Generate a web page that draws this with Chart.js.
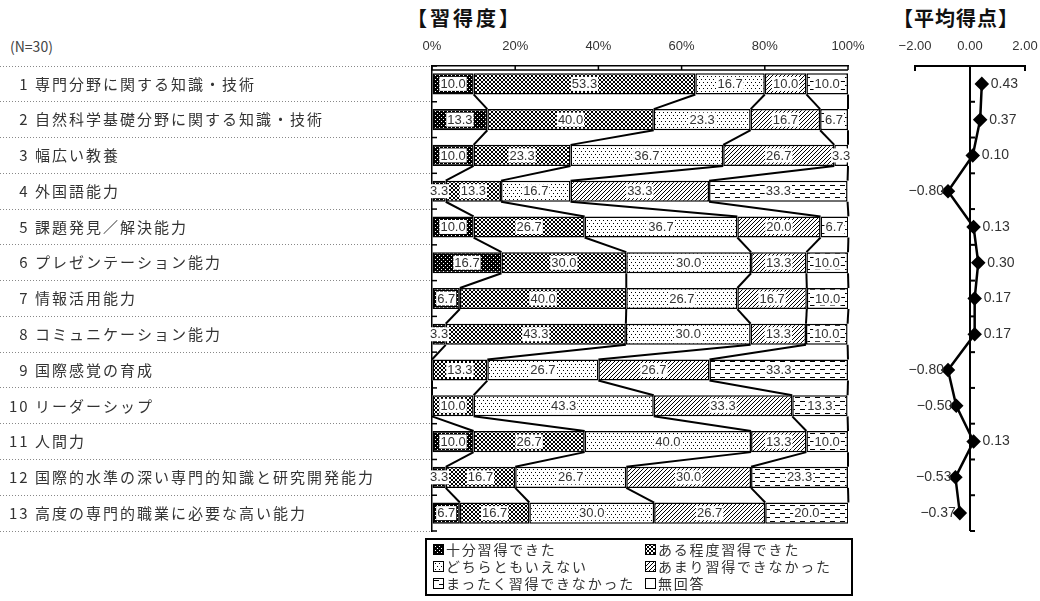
<!DOCTYPE html>
<html lang="ja">
<head>
<meta charset="utf-8">
<title>習得度と平均得点</title>
<script src="https://cdn.jsdelivr.net/npm/chart.js@4.4.1/dist/chart.umd.min.js"></script>
<style>
  body { margin: 0; width: 1040px; height: 601px; background: #fff; position: relative; overflow: hidden;
         font-family: "Noto Sans CJK JP", "Noto Sans", sans-serif; color: #333; }
  .title { position: absolute; top: 3px; font-size: 20px; font-weight: bold; color: #111; }
  #t1 { left: 407px; letter-spacing: 3px; }
  #t2 { left: 893px; letter-spacing: 1px; }
  #n { position: absolute; left: 10px; top: 36px; font-size: 14px; color: #444; }
  #left { position: absolute; left: 0; top: 0; }
  #right { position: absolute; left: 880px; top: 0; }
  #legend { position: absolute; left: 425px; top: 538px; width: 428px; height: 58px; border: 2px solid #000;
            display: grid; grid-template-columns: 212px 212px; grid-auto-rows: 17px; padding: 1px 0 0 6px; box-sizing: border-box; }
  #legend .item { font-size: 14px; line-height: 17px; letter-spacing: 1.8px; white-space: nowrap; display: flex; align-items: center; }
  #legend .sw { width: 9px; height: 9px; border: 1.5px solid #000; margin-right: 2px; flex: none; }
</style>
</head>
<body>
<div class="title" id="t1">【習得度】</div>
<div class="title" id="t2">【平均得点】</div>
<div id="n">(N=30)</div>
<canvas id="left" width="880" height="560"></canvas>
<canvas id="right" width="170" height="560"></canvas>
<div id="legend"></div>
<script>
// categories (top to bottom)
const categories = [
  '専門分野に関する知識・技術',
  '自然科学基礎分野に関する知識・技術',
  '幅広い教養',
  '外国語能力',
  '課題発見／解決能力',
  'プレゼンテーション能力',
  '情報活用能力',
  'コミュニケーション能力',
  '国際感覚の育成',
  'リーダーシップ',
  '人間力',
  '国際的水準の深い専門的知識と研究開発能力',
  '高度の専門的職業に必要な高い能力'
];
const seriesNames = ['十分習得できた', 'ある程度習得できた', 'どちらともいえない', 'あまり習得できなかった', 'まったく習得できなかった', '無回答'];

// percentages per answer
const fully    = [10.0, 13.3, 10.0,  3.3, 10.0, 16.7,  6.7,  3.3,  0,    0,    10.0,  3.3,  6.7];
const somewhat = [53.3, 40.0, 23.3, 13.3, 26.7, 30.0, 40.0, 43.3, 13.3, 10.0, 26.7, 16.7, 16.7];
const neutral  = [16.7, 23.3, 36.7, 16.7, 36.7, 30.0, 26.7, 30.0, 26.7, 43.3, 40.0, 26.7, 30.0];
const little   = [10.0, 16.7, 26.7, 33.3, 20.0, 13.3, 16.7, 13.3, 26.7, 33.3, 13.3, 30.0, 26.7];
const notAtAll = [10.0,  6.7,  3.3, 33.3,  6.7, 10.0, 10.0, 10.0, 33.3, 13.3, 10.0, 23.3, 20.0];
const noAnswer = [0, 0, 0, 0, 0, 0, 0, 0, 0, 0, 0, 0, 0];
const seriesValues = [fully, somewhat, neutral, little, notAtAll, noAnswer];

// average score per category
const meanScores = [0.43, 0.37, 0.10, -0.80, 0.13, 0.30, 0.17, 0.17, -0.80, -0.50, 0.13, -0.53, -0.37];

const percentTicks = [0, 20, 40, 60, 80, 100];
const scoreTicks = [-2, 0, 2];

const FONT = '"Noto Sans CJK JP", "Noto Sans", sans-serif';
const NUMFONT = '"Liberation Sans", "DejaVu Sans", sans-serif';

// small black/white tiles for the fill patterns
function makeTile(rows) {
    const c = document.createElement('canvas');
    c.width = rows[0].length;
    c.height = rows.length;
    const g = c.getContext('2d');
    g.fillStyle = '#fff';
    g.fillRect(0, 0, c.width, c.height);
    g.fillStyle = '#000';
    rows.forEach((r, y) => [...r].forEach((p, x) => { if (p === '1') g.fillRect(x, y, 1, 1); }));
    return c;
}
const tiles = [
    makeTile(['1111', '1011', '1111', '1110']),
    makeTile(['1001', '0110', '0110', '1001']),
    makeTile(['0000', '0100', '0000', '0000', '0001', '0000']),
    makeTile(['0001', '0010', '0100', '1000']),
    makeTile(['0000000000', '1111100000', '0000000000', '0000000000', '0000000000', '0000011111', '0000000000', '0000000000']),
    makeTile(['0'])
];
const patterns = tiles.map(t => document.createElement('canvas').getContext('2d').createPattern(t, 'repeat'));

function line(ctx, x1, y1, x2, y2) {
    ctx.beginPath();
    ctx.moveTo(x1, y1);
    ctx.lineTo(x2, y2);
    ctx.stroke();
}

// wider spacing for the category labels only (x labels are drawn later, ticks.z = 1)
const spacingPlugin = {
    id: 'spacing',
    beforeDraw(chart) { chart.ctx.letterSpacing = '2px'; },
    beforeDatasetsDraw(chart) { chart.ctx.letterSpacing = '0px'; }
};

// series lines between bars, value labels, axis ticks
const barDecor = {
    id: 'barDecor',
    afterDatasetsDraw(chart) {
        const ctx = chart.ctx;
        const metas = seriesValues.map((_, k) => chart.getDatasetMeta(k));
        ctx.save();
        ctx.strokeStyle = '#000';
        ctx.lineWidth = 2;
        for (let k = 0; k < 5; k++) {
            const els = metas[k].data;
            for (let i = 0; i < els.length - 1; i++) {
                const a = els[i], b = els[i + 1];
                line(ctx, a.x, a.y + a.height / 2, b.x, b.y - b.height / 2);
            }
        }
        ctx.font = '13px ' + NUMFONT;
        ctx.textAlign = 'center';
        ctx.textBaseline = 'middle';
        seriesValues.forEach((vals, k) => {
            vals.forEach((v, i) => {
                if (!v) return;
                const el = metas[k].data[i];
                const cx = (el.x + el.base) / 2;
                const txt = v.toFixed(1);
                const w = ctx.measureText(txt).width;
                ctx.fillStyle = '#fff';
                ctx.fillRect(cx - w / 2 - 1, el.y - 7, w + 2, 14);
                ctx.fillStyle = '#333';
                ctx.fillText(txt, cx, el.y + 0.5);
            });
        });
        ctx.restore();
    },
    afterDraw(chart) {
        const ctx = chart.ctx;
        const area = chart.chartArea;
        const xs = chart.scales.x, ys = chart.scales.y;
        ctx.save();
        ctx.strokeStyle = '#000';
        ctx.lineWidth = 1.5;
        line(ctx, area.left, area.top + 4, area.right, area.top + 4);
        percentTicks.forEach(v => {
            const px = xs.getPixelForValue(v);
            line(ctx, px, area.top, px, area.top + 4);
        });
        for (let i = 0; i <= categories.length; i++) {
            const py = ys.getPixelForValue(i - 0.5);
            line(ctx, area.left, py, area.left + 5, py);
        }
        ctx.restore();
    }
};

const leftChart = new Chart(document.getElementById('left'), {
    type: 'bar',
    data: {
        labels: categories,
        datasets: seriesValues.map((vals, k) => ({
            label: seriesNames[k],
            data: vals,
            backgroundColor: patterns[k],
            borderColor: '#000',
            borderWidth: 1.5,
            borderSkipped: false,
            barPercentage: 0.59,
            categoryPercentage: 1
        }))
    },
    options: {
        indexAxis: 'y',
        responsive: false,
        animation: false,
        layout: { padding: { left: 9, right: 32, top: 0, bottom: 29 } },
        plugins: { legend: { display: false }, tooltip: { enabled: false } },
        scales: {
            x: {
                stacked: true,
                position: 'top',
                min: 0,
                max: 100,
                afterBuildTicks: s => { s.ticks = percentTicks.map(v => ({ value: v })); },
                afterFit: s => { s.height = 66; },
                ticks: { z: 1, callback: v => v + '%', padding: 12, color: '#333', maxRotation: 0, font: { size: 13, family: NUMFONT } },
                grid: { drawOnChartArea: false, drawTicks: false },
                border: { color: '#000', width: 1.5 }
            },
            y: {
                stacked: true,
                afterFit: s => { s.width = 423; },
                ticks: {
                    autoSkip: false,
                    crossAlign: 'far',
                    padding: 0,
                    color: '#333',
                    font: { size: 15, family: FONT },
                    callback: (v, i) => String(i + 1).padStart(2, '\u2007') + ' ' + categories[i]
                },
                grid: { drawOnChartArea: false, tickLength: 432, tickColor: '#888', tickWidth: 1, tickBorderDash: [1, 2] },
                border: { color: '#000', width: 1.5 }
            }
        }
    },
    plugins: [spacingPlugin, barDecor]
});

const fmtScore = v => (v < 0 ? '\u2212' : '') + Math.abs(v).toFixed(2);

const scoreDecor = {
    id: 'scoreDecor',
    beforeDatasetsDraw(chart) {
        // vertical axis at zero with short ticks on its right
        const ctx = chart.ctx;
        const xs = chart.scales.x, ys = chart.scales.y;
        const x0 = Math.round(xs.getPixelForValue(0));
        const yTop = chart.chartArea.top;
        const yBottom = ys.getPixelForValue(categories.length - 0.5);
        ctx.save();
        ctx.strokeStyle = '#000';
        ctx.fillStyle = '#000';
        ctx.lineWidth = 2;
        ctx.fillRect(x0 - 1, yTop, 2, yBottom - yTop);
        for (let i = 1; i <= categories.length; i++) {
            const py = ys.getPixelForValue(i - 0.5);
            line(ctx, x0, py, x0 + 5, py);
        }
        [scoreTicks[0], scoreTicks[scoreTicks.length - 1]].forEach(v => {
            const px = xs.getPixelForValue(v);
            line(ctx, px, yTop - 1, px, yTop + 5);
        });
        ctx.restore();
    },
    afterDatasetsDraw(chart) {
        const ctx = chart.ctx;
        const els = chart.getDatasetMeta(0).data;
        ctx.save();
        ctx.font = '14px ' + NUMFONT;
        ctx.fillStyle = '#333';
        ctx.textBaseline = 'middle';
        meanScores.forEach((v, i) => {
            const el = els[i];
            if (v < 0) {
                ctx.textAlign = 'right';
                ctx.fillText(fmtScore(v), el.x - 4, el.y);
            } else {
                ctx.textAlign = 'left';
                ctx.fillText(fmtScore(v), el.x + 9, el.y);
            }
        });
        ctx.restore();
    }
};

const rightChart = new Chart(document.getElementById('right'), {
    type: 'line',
    data: {
        labels: categories,
        datasets: [{
            label: '平均得点',
            data: meanScores,
            borderColor: '#000',
            borderWidth: 2.5,
            pointStyle: 'rectRot',
            pointRadius: 5.5,
            pointBackgroundColor: '#000',
            pointBorderColor: '#000',
            tension: 0,
            clip: false
        }]
    },
    options: {
        indexAxis: 'y',
        responsive: false,
        animation: false,
        layout: { padding: { left: 35, right: 25, top: 0, bottom: 29 } },
        plugins: { legend: { display: false }, tooltip: { enabled: false } },
        scales: {
            x: {
                type: 'linear',
                position: 'top',
                min: -2,
                max: 2,
                afterBuildTicks: s => { s.ticks = scoreTicks.map(v => ({ value: v })); },
                afterFit: s => { s.height = 66; },
                ticks: { callback: fmtScore, padding: 12, color: '#333', maxRotation: 0, font: { size: 13, family: NUMFONT } },
                grid: { drawOnChartArea: false, drawTicks: false },
                border: { color: '#000', width: 2 }
            },
            y: {
                type: 'category',
                offset: true,
                display: false
            }
        }
    },
    plugins: [scoreDecor]
});

// legend in two columns, built from the bar datasets
const legendEl = document.getElementById('legend');
leftChart.data.datasets.forEach((ds, k) => {
    const item = document.createElement('div');
    item.className = 'item';
    const sw = document.createElement('span');
    sw.className = 'sw';
    sw.style.backgroundImage = 'url(' + tiles[k].toDataURL() + ')';
    item.appendChild(sw);
    item.appendChild(document.createTextNode(ds.label));
    legendEl.appendChild(item);
});
</script>
</body>
</html>
